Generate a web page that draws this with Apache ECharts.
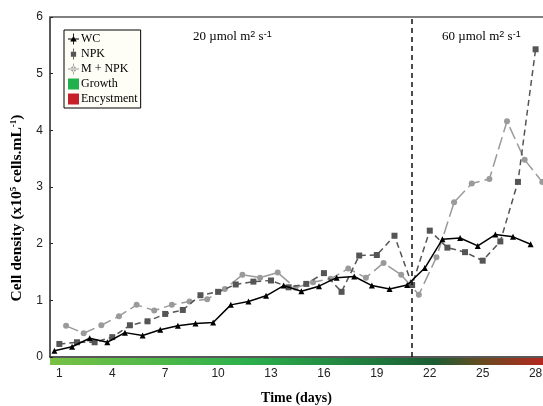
<!DOCTYPE html>
<html>
<head>
<meta charset="utf-8">
<script src="https://cdn.jsdelivr.net/npm/echarts@6/dist/echarts.min.js"></script>
<style>
html, body { margin: 0; padding: 0; background: #fff; }
#chart { width: 543px; height: 406px; }
</style>
</head>
<body>
<div id="chart"></div>
<script>
var days = [1, 2, 3, 4, 5, 6, 7, 8, 9, 10, 11, 12, 13, 14, 15, 16, 17, 18, 19, 20, 21, 22, 23, 24, 25, 26, 27, 28];
var dayTicks = [1, 4, 7, 10, 13, 16, 19, 22, 25, 28];
var yTicks = [0, 1, 2, 3, 4, 5, 6];
var wc = [0.11, 0.18, 0.33, 0.26, 0.43, 0.38, 0.48, 0.55, 0.59, 0.61, 0.92, 0.98, 1.08, 1.26,
          1.16, 1.25, 1.40, 1.42, 1.26, 1.20, 1.27, 1.57, 2.08, 2.10, 1.96, 2.16, 2.12, 1.99];
var npk = [0.23, 0.26, 0.26, 0.35, 0.56, 0.63, 0.76, 0.83, 1.09, 1.15, 1.28, 1.33, 1.35, 1.23,
           1.29, 1.48, 1.15, 1.79, 1.80, 2.14, 1.27, 2.23, 1.93, 1.85, 1.70, 2.04, 3.09, 5.43];
var mnpk = [0.55, 0.42, 0.56, 0.72, 0.92, 0.82, 0.92, 0.98, 1.02, 1.20, 1.45, 1.40, 1.49, 1.22,
            1.32, 1.38, 1.56, 1.40, 1.66, 1.45, 1.10, 1.76, 2.73, 3.06, 3.14, 4.16, 3.48, 3.09];
var lightChange = 21;

// samples of each treatment were read a little apart within the day
function pares(vals, shift) {
    var out = [];
    for (var i = 0; i < days.length; i++) {
        out.push([days[i] + shift, vals[i]]);
    }
    return out;
}

var serif = 'Liberation Serif, Times New Roman, serif';
var sans = 'Liberation Sans, Arial, sans-serif';
var sup = { fontSize: 9, verticalAlign: 'top', padding: [0, 0, 5, 0] };

var myChart = echarts.init(document.getElementById('chart'));
myChart.setOption({
    animation: false,
    grid: { left: 50, right: 0, top: 17, bottom: 49, outerBoundsMode: 'none', containLabel: false },
    legend: {
        orient: 'vertical',
        left: 64,
        top: 30,
        padding: [3, 3, 3, 4],
        itemGap: 3,
        itemWidth: 11,
        itemHeight: 11,
        backgroundColor: '#fffef6',
        borderColor: '#000',
        borderWidth: 1,
        textStyle: { fontFamily: serif, fontSize: 12, color: '#000', padding: [0, 0, 0, -3] },
        data: [
            { name: 'WC', icon: 'path://M4.6,0h0.8v10h-0.8z M0,4.6h10v0.8h-10z M5,2.2l3,5h-6z' },
            { name: 'NPK', icon: 'path://M4.6,0h0.8v10h-0.8z M2.6,3h4.8v4.4h-4.8z' },
            { name: 'M + NPK', icon: 'path://M4.6,0h0.8v10h-0.8z M0,4.6h10v0.8h-10z M5,2.6a2.4,2.4 0 1,0 0.01,0z' },
            { name: 'Growth', icon: 'rect' },
            { name: 'Encystment', icon: 'rect' }
        ]
    },
    xAxis: [{
        type: 'value',
        min: 0.47,
        max: 28.42,
        name: 'Time (days)',
        nameLocation: 'middle',
        nameGap: 34,
        nameTextStyle: { fontFamily: serif, fontSize: 14, fontWeight: 'bold', color: '#000' },
        axisLine: { show: true, lineStyle: { color: '#222', width: 1.5 } },
        axisTick: { show: false },
        splitLine: { show: false },
        axisLabel: {
            customValues: dayTicks,
            margin: 11,
            fontFamily: sans,
            fontSize: 12,
            color: '#222'
        }
    }, {
        type: 'value',
        position: 'top',
        min: 0.47,
        max: 28.42,
        axisLine: { show: true, lineStyle: { color: '#808080', width: 2 } },
        axisTick: { show: false },
        axisLabel: { show: false },
        splitLine: { show: false }
    }],
    yAxis: {
        type: 'value',
        min: 0,
        max: 6,
        interval: 1,
        name: 'Cell density (x10{s|5} cells.mL{s|-1})',
        nameLocation: 'middle',
        nameGap: 18,
        nameTextStyle: {
            fontFamily: serif, fontSize: 15.5, fontWeight: 'bold', color: '#000',
            padding: [0, 42, 0, 0],
            rich: { s: { fontFamily: serif, fontSize: 9, fontWeight: 'bold', verticalAlign: 'top', padding: [0, 0, 6, 0] } }
        },
        axisLine: { show: true, lineStyle: { color: '#222', width: 1.5 } },
        axisTick: { show: true, inside: true, length: 3, lineStyle: { color: '#222' } },
        splitLine: { show: false },
        axisLabel: {
            customValues: yTicks,
            margin: 7,
            fontFamily: sans,
            fontSize: 12,
            color: '#222'
        }
    },
    series: [{
        name: 'M + NPK',
        type: 'line',
        data: pares(mnpk, 0.38),
        color: '#9a9a9a',
        symbol: 'circle',
        symbolSize: 6,
        lineStyle: { width: 1.5, type: [13, 5] },
        z: 2
    }, {
        name: 'NPK',
        type: 'line',
        data: pares(npk, 0),
        color: '#555555',
        symbol: 'rect',
        symbolSize: 6,
        lineStyle: { width: 1.5, type: [6, 4] },
        z: 3,
        markLine: {
            silent: true,
            symbol: 'none',
            label: { show: false },
            lineStyle: { color: '#111', type: [5, 4], width: 1.5 },
            data: [{ xAxis: lightChange }]
        }
    }, {
        name: 'WC',
        type: 'line',
        data: pares(wc, -0.28),
        color: '#000',
        symbol: 'triangle',
        symbolSize: 6,
        lineStyle: { width: 1.5, type: 'solid' },
        z: 4
    }, {
        name: 'Growth',
        type: 'line',
        data: [],
        color: '#22b14c'
    }, {
        name: 'Encystment',
        type: 'line',
        data: [],
        color: '#c8202a'
    }],
    graphic: [{
        type: 'rect',
        left: 50,
        top: 358,
        shape: { width: 493, height: 7 },
        style: {
            fill: new echarts.graphic.LinearGradient(0, 0, 1, 0, [
                { offset: 0, color: '#78c145' },
                { offset: 0.4, color: '#2cb04c' },
                { offset: 0.65, color: '#1f7a3e' },
                { offset: 0.78, color: '#1d5c33' },
                { offset: 0.88, color: '#6a4a20' },
                { offset: 1, color: '#b4271f' }
            ])
        }
    }, {
        type: 'text',
        left: 193,
        top: 30,
        style: {
            text: '20 µmol m{s|2} s{s|-1}',
            fontFamily: serif,
            fontSize: 13,
            fill: '#000',
            rich: { s: sup }
        }
    }, {
        type: 'text',
        left: 442,
        top: 30,
        style: {
            text: '60 µmol m{s|2} s{s|-1}',
            fontFamily: serif,
            fontSize: 13,
            fill: '#000',
            rich: { s: sup }
        }
    }]
});
</script>
</body>
</html>
